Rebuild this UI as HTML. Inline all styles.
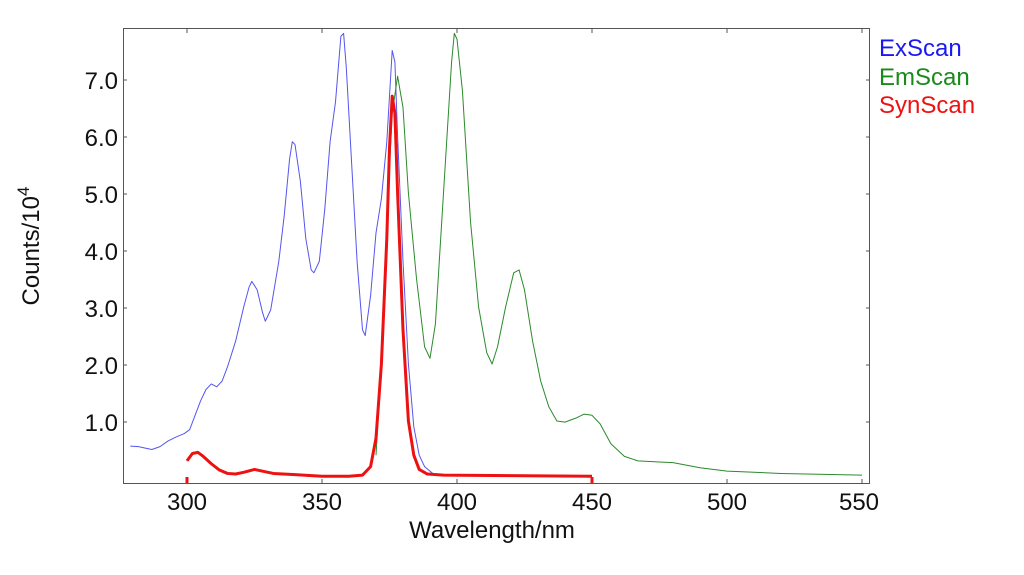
<!DOCTYPE html>
<html><head><meta charset="utf-8"><style>
html,body{margin:0;padding:0;background:#fff;}
svg{display:block;font-family:"Liberation Sans",Arial,sans-serif;}
</style></head><body>
<svg width="1024" height="575" viewBox="0 0 1024 575" xmlns="http://www.w3.org/2000/svg">
<rect x="0" y="0" width="1024" height="575" fill="#fff"/>
<g fill="none" stroke-linejoin="round">
<g transform="matrix(2.7 0 0 -57 -623 478)">
<polyline vector-effect="non-scaling-stroke" stroke="#5555ee" stroke-width="1" points="279,0.56 282,0.55 285,0.52 287,0.5 290,0.55 293,0.65 296,0.72 299,0.78 301,0.85 303,1.1 305,1.35 307,1.55 309,1.65 311,1.6 313,1.7 315,1.95 318,2.4 321,3.0 323,3.35 324,3.45 326,3.3 328,2.9 329,2.75 331,2.95 334,3.8 336,4.6 338,5.6 339,5.9 340,5.85 342,5.2 344,4.2 346,3.65 347,3.6 349,3.8 351,4.7 353,5.9 355,6.6 357,7.75 358,7.8 359,7.2 361,5.5 363,3.8 365,2.6 366,2.5 368,3.2 370,4.3 372,4.9 374,5.9 376,7.5 377,7.3 378,6.0 380,3.8 382,2.0 384,0.9 386,0.4 388,0.2 391,0.08 395,0.05 450,0.04"/>
<polyline vector-effect="non-scaling-stroke" stroke="#2a8a2a" stroke-width="1" points="370,0.4 372,2.0 374,4.5 376,6.4 378,7.05 380,6.5 382,5.0 385,3.5 388,2.3 390,2.1 392,2.7 395,5.0 398,7.3 399,7.8 400,7.7 402,6.8 405,4.5 408,3.0 411,2.2 413,2.0 415,2.3 418,3.0 421,3.6 423,3.65 425,3.3 428,2.4 431,1.7 434,1.25 437,1.0 440,0.98 444,1.05 447,1.12 450,1.1 453,0.95 457,0.6 462,0.38 467,0.3 475,0.28 480,0.27 490,0.18 500,0.12 520,0.08 550,0.05"/>
<polyline vector-effect="non-scaling-stroke" stroke="#ee1111" stroke-width="3" points="300,0.3 302,0.43 304,0.45 306,0.38 309,0.25 312,0.14 315,0.08 318,0.07 321,0.1 325,0.15 328,0.12 332,0.08 340,0.06 350,0.03 360,0.03 365,0.05 368,0.2 370,0.7 372,2.0 374,4.2 375,5.8 376,6.7 377,6.4 378,5.0 380,2.6 382,1.0 384,0.4 386,0.15 389,0.07 395,0.05 450,0.03"/>
</g>
</g>
<line x1="187" y1="477" x2="187" y2="484" stroke="#ee1111" stroke-width="3"/>
<line x1="592" y1="477" x2="592" y2="484" stroke="#ee1111" stroke-width="3"/>
<rect x="123.5" y="28.5" width="746" height="455" fill="none" stroke="#555" stroke-width="1"/>
<g stroke="#555" stroke-width="1">
<line x1="187" y1="29" x2="187" y2="33"/><line x1="322" y1="29" x2="322" y2="33"/><line x1="457" y1="29" x2="457" y2="33"/><line x1="592" y1="29" x2="592" y2="33"/><line x1="727" y1="29" x2="727" y2="33"/><line x1="862" y1="29" x2="862" y2="33"/>
<line x1="322" y1="479" x2="322" y2="483"/><line x1="457" y1="479" x2="457" y2="483"/><line x1="727" y1="479" x2="727" y2="483"/><line x1="862" y1="479" x2="862" y2="483"/>
<line x1="123" y1="80" x2="127" y2="80"/><line x1="123" y1="137" x2="127" y2="137"/><line x1="123" y1="194" x2="127" y2="194"/><line x1="123" y1="251" x2="127" y2="251"/><line x1="123" y1="308" x2="127" y2="308"/><line x1="123" y1="365" x2="127" y2="365"/><line x1="123" y1="422" x2="127" y2="422"/>
<line x1="866" y1="80" x2="870" y2="80"/><line x1="866" y1="137" x2="870" y2="137"/><line x1="866" y1="194" x2="870" y2="194"/><line x1="866" y1="251" x2="870" y2="251"/><line x1="866" y1="308" x2="870" y2="308"/><line x1="866" y1="365" x2="870" y2="365"/><line x1="866" y1="422" x2="870" y2="422"/>
</g>
<g font-size="24" fill="#111" text-anchor="end">
<text x="118" y="89">7.0</text><text x="118" y="146">6.0</text><text x="118" y="203">5.0</text><text x="118" y="260">4.0</text><text x="118" y="317">3.0</text><text x="118" y="374">2.0</text><text x="118" y="431">1.0</text>
</g>
<g font-size="24" fill="#111" text-anchor="middle">
<text x="187" y="510">300</text><text x="322" y="510">350</text><text x="457" y="510">400</text><text x="592" y="510">450</text><text x="727" y="510">500</text><text x="859" y="510">550</text>
<text x="492" y="538">Wavelength/nm</text>
</g>
<text transform="translate(39,246) rotate(-90)" font-size="24" fill="#111" text-anchor="middle">Counts/10<tspan font-size="17" dy="-10">4</tspan></text>
<g font-size="24">
<text x="879" y="56" fill="#1a1aee">ExScan</text>
<text x="879" y="85" fill="#1a8a1a">EmScan</text>
<text x="879" y="113" fill="#ee1111">SynScan</text>
</g>
</svg>
</body></html>
